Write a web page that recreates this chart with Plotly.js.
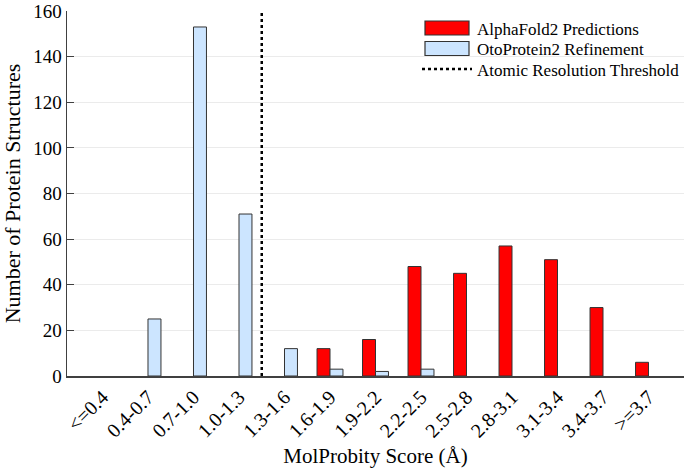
<!DOCTYPE html>
<html>
<head>
<meta charset="utf-8">
<script src="https://cdn.plot.ly/plotly-3.0.1.min.js"></script>
<style>
  html, body { margin: 0; padding: 0; background: #fff; }
  #chart { width: 685px; height: 470px; }
</style>
</head>
<body>
<div id="chart"></div>
<script>
const bins = ["<=0.4", "0.4-0.7", "0.7-1.0", "1.0-1.3", "1.3-1.6", "1.6-1.9", "1.9-2.2",
              "2.2-2.5", "2.5-2.8", "2.8-3.1", "3.1-3.4", "3.4-3.7", ">=3.7"];
const alphafold = [0, 0, 0, 0, 0, 12, 16, 48, 45, 57, 51, 30, 6];
const otoprotein = [0, 25, 153, 71, 12, 3, 2, 3, 0, 0, 0, 0, 0];
// threshold sits between the 1.0-1.3 and 1.3-1.6 bins
const thresholdPos = 3.5;
const yMax = 160;

const xIdx = bins.map((_, i) => i);
const serif = "Liberation Serif";
const edgeColor = "#333333";
// no outline on empty bins
const edgeFor = vals => ({ color: edgeColor, width: vals.map(v => (v > 0 ? 1 : 0)) });

const traces = [
  {
    type: "bar", x: xIdx, y: alphafold, name: "AlphaFold2 Predictions",
    marker: { color: "#ff0000", line: edgeFor(alphafold) }
  },
  {
    type: "bar", x: xIdx, y: otoprotein, name: "OtoProtein2 Refinement",
    marker: { color: "#cce5ff", line: edgeFor(otoprotein) }
  },
  {
    type: "scatter", mode: "lines", x: [thresholdPos, thresholdPos], y: [0, yMax],
    name: "Atomic Resolution Threshold",
    line: { color: "#000", width: 2.5, dash: "dot" }
  }
];

const layout = {
  width: 685, height: 470,
  margin: { l: 67, r: 0, t: 11, b: 94 },
  paper_bgcolor: "#fff", plot_bgcolor: "#fff",
  font: { family: serif, color: "#000" },
  barmode: "group", bargap: 0.43, bargroupgap: 0,
  showlegend: true,
  legend: {
    x: 0.567, y: 1.0, xanchor: "left", yanchor: "top",
    bgcolor: "rgba(0,0,0,0)", font: { size: 17, family: serif },
    itemwidth: 50, tracegroupgap: 0
  },
  xaxis: {
    range: [-0.78, 12.78],
    tickvals: xIdx, ticktext: bins, tickangle: -45,
    tickfont: { size: 20, family: serif }, ticks: "",
    showgrid: false, zeroline: false,
    showline: true, linecolor: "#404040", linewidth: 1.5,
    title: { text: "MolProbity Score (Å)", font: { size: 21, family: serif }, standoff: 8 }
  },
  yaxis: {
    range: [0, yMax], dtick: 20,
    tickfont: { size: 19, family: serif }, ticks: "inside", ticklen: 7, tickcolor: "#404040",
    showgrid: true, gridcolor: "#ebebeb", gridwidth: 1, zeroline: false,
    showline: true, linecolor: "#404040", linewidth: 1.5,
    title: { text: "Number of Protein Structures", font: { size: 22, family: serif }, standoff: 8 }
  }
};

Plotly.newPlot("chart", traces, layout, { displayModeBar: false, staticPlot: true }).then(gd => {
  const items = gd.querySelectorAll(".legend .traces");
  items.forEach((g, i) => {
    // tighter rows, like the reference legend
    g.setAttribute("transform", "translate(0," + (17 + i * 20.5) + ")");
    // wide outlined swatches for the bar entries
    if (i < 2) {
      g.querySelectorAll(".legendpoints path").forEach(p => {
        p.setAttribute("d", "M22,7H-22V-7H22Z");
        p.style.stroke = edgeColor;
        p.style.strokeWidth = "1.2px";
      });
    }
  });
});
</script>
</body>
</html>
